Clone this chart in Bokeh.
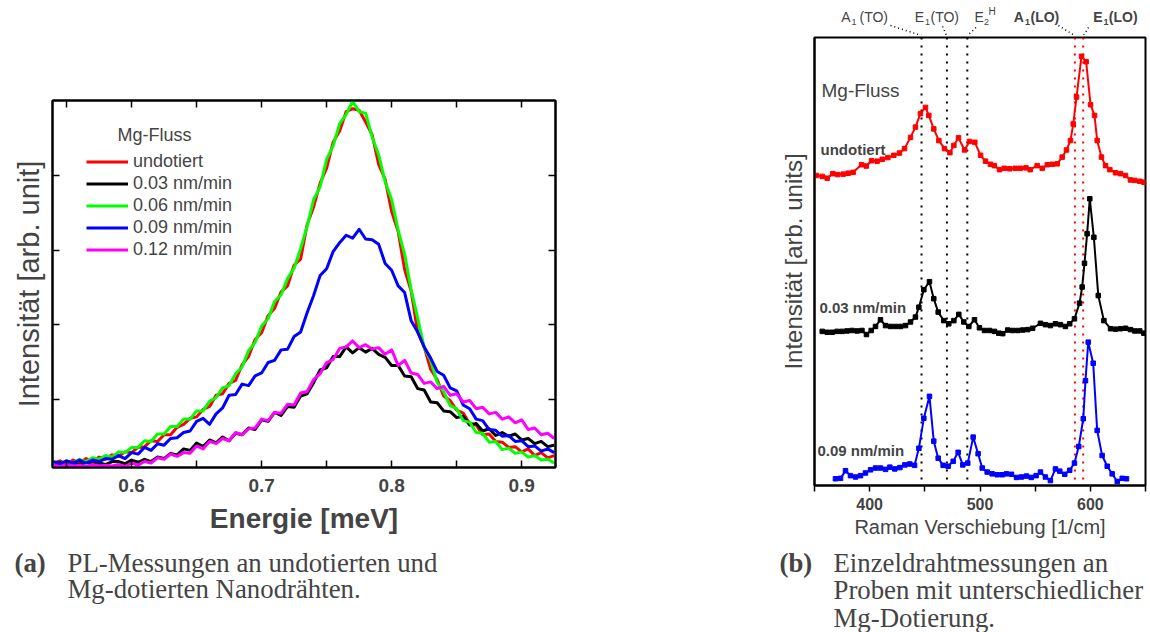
from bokeh.plotting import figure
from bokeh.models import Range1d, LinearAxis, FixedTicker, Legend, Label, Span
from bokeh.embed import file_html
from bokeh.resources import INLINE

SANS = "Liberation Sans"
SERIF = "Liberation Serif"

# ---------------- panel (a): PL spectra ----------------
energy = [0.540, 0.545, 0.550, 0.555, 0.560, 0.565, 0.570, 0.575, 0.580, 0.585,
          0.590, 0.595, 0.600, 0.605, 0.610, 0.615, 0.620, 0.625, 0.630, 0.635,
          0.640, 0.645, 0.650, 0.655, 0.660, 0.665, 0.670, 0.675, 0.680, 0.685,
          0.690, 0.695, 0.700, 0.705, 0.710, 0.715, 0.720, 0.725, 0.730, 0.735,
          0.740, 0.745, 0.750, 0.755, 0.760, 0.765, 0.770, 0.775, 0.780, 0.785,
          0.790, 0.795, 0.800, 0.805, 0.810, 0.815, 0.820, 0.825, 0.830, 0.835,
          0.840, 0.845, 0.850, 0.855, 0.860, 0.865, 0.870, 0.875, 0.880, 0.885,
          0.890, 0.895, 0.900, 0.905, 0.910, 0.915, 0.920, 0.925]

pl_undotiert = [0.14, 0.17, 0.12, 0.18, 0.14, 0.20, 0.16, 0.22, 0.19, 0.25,
                0.23, 0.29, 0.28, 0.35, 0.36, 0.44, 0.43, 0.52, 0.52, 0.62,
                0.66, 0.74, 0.76, 0.86, 0.90, 1.05, 1.07, 1.21, 1.25, 1.46,
                1.57, 1.80, 1.89, 2.12, 2.22, 2.44, 2.52, 2.80, 2.88, 3.34,
                3.58, 3.90, 4.10, 4.45, 4.60, 4.86, 4.90, 4.88, 4.72, 4.55,
                4.15, 3.95, 3.52, 3.25, 2.74, 2.45, 1.90, 1.70, 1.40, 1.26,
                1.04, 0.98, 0.85, 0.81, 0.67, 0.65, 0.52, 0.53, 0.43, 0.42,
                0.35, 0.36, 0.29, 0.33, 0.24, 0.28, 0.21, 0.24]

pl_003 = [0.12, 0.15, 0.11, 0.14, 0.12, 0.15, 0.13, 0.14, 0.12, 0.16,
          0.16, 0.13, 0.18, 0.15, 0.19, 0.16, 0.22, 0.20, 0.27, 0.25,
          0.33, 0.31, 0.41, 0.36, 0.45, 0.41, 0.49, 0.44, 0.54, 0.52,
          0.61, 0.59, 0.72, 0.70, 0.82, 0.78, 0.90, 0.89, 1.04, 1.07,
          1.22, 1.39, 1.42, 1.57, 1.57, 1.70, 1.62, 1.69, 1.63, 1.68,
          1.60, 1.56, 1.45, 1.45, 1.31, 1.30, 1.14, 1.12, 0.96, 0.95,
          0.84, 0.83, 0.75, 0.77, 0.65, 0.67, 0.57, 0.60, 0.51, 0.55,
          0.50, 0.53, 0.45, 0.47, 0.40, 0.43, 0.36, 0.38]

pl_006 = [0.15, 0.13, 0.17, 0.14, 0.19, 0.16, 0.21, 0.19, 0.24, 0.22,
          0.29, 0.28, 0.35, 0.35, 0.44, 0.43, 0.53, 0.53, 0.63, 0.63,
          0.73, 0.73, 0.84, 0.84, 0.97, 1.02, 1.15, 1.18, 1.34, 1.43,
          1.65, 1.76, 1.98, 2.08, 2.31, 2.40, 2.62, 2.76, 3.02, 3.32,
          3.68, 3.85, 4.22, 4.40, 4.70, 4.82, 5.00, 4.86, 4.84, 4.52,
          4.28, 3.92, 3.68, 3.27, 2.94, 2.47, 2.09, 1.69, 1.52, 1.22,
          1.10, 0.91, 0.87, 0.71, 0.69, 0.55, 0.54, 0.42, 0.43, 0.32,
          0.34, 0.27, 0.29, 0.22, 0.24, 0.18, 0.19, 0.14]

pl_009 = [0.16, 0.13, 0.17, 0.14, 0.18, 0.14, 0.18, 0.16, 0.20, 0.19,
          0.24, 0.20, 0.28, 0.26, 0.35, 0.31, 0.40, 0.38, 0.47, 0.48,
          0.55, 0.57, 0.70, 0.74, 0.66, 0.80, 0.88, 1.05, 1.06, 1.20,
          1.18, 1.31, 1.35, 1.49, 1.52, 1.66, 1.67, 1.84, 1.90, 2.16,
          2.39, 2.66, 2.75, 2.98, 3.10, 3.20, 3.16, 3.28, 3.15, 3.14,
          3.08, 2.82, 2.73, 2.52, 2.43, 2.05, 1.90, 1.70, 1.55, 1.37,
          1.32, 1.15, 1.11, 0.92, 0.87, 0.73, 0.71, 0.59, 0.58, 0.50,
          0.51, 0.43, 0.44, 0.36, 0.37, 0.30, 0.33, 0.28]

pl_012 = [0.11, 0.09, 0.12, 0.10, 0.11, 0.09, 0.12, 0.10, 0.11, 0.10,
          0.12, 0.09, 0.14, 0.11, 0.16, 0.14, 0.21, 0.19, 0.26, 0.23,
          0.28, 0.27, 0.37, 0.33, 0.43, 0.40, 0.47, 0.44, 0.55, 0.52,
          0.60, 0.61, 0.73, 0.71, 0.82, 0.81, 0.93, 0.92, 1.08, 1.10,
          1.26, 1.34, 1.49, 1.53, 1.68, 1.70, 1.78, 1.69, 1.73, 1.67,
          1.69, 1.60, 1.66, 1.45, 1.52, 1.35, 1.33, 1.21, 1.23, 1.14,
          1.17, 1.05, 1.07, 0.96, 0.98, 0.87, 0.89, 0.80, 0.82, 0.73,
          0.76, 0.68, 0.72, 0.59, 0.61, 0.52, 0.54, 0.47]

pl_labels = ["undotiert", "0.03 nm/min", "0.06 nm/min", "0.09 nm/min", "0.12 nm/min"]
pl_colors = ["#ff0000", "#000000", "#00ff00", "#0000ff", "#ff00ff"]
pl_series = [pl_undotiert, pl_003, pl_006, pl_009, pl_012]

energy_major = [0.6, 0.7, 0.8, 0.9]
energy_minor = [0.55, 0.65, 0.75, 0.85]
intensity_ticks = [1, 2, 3, 4]

# ---------------- panel (b): Raman spectra ----------------
raman_undotiert_x = [351.8, 357, 361.5, 366.6, 371, 376, 380.5, 385, 392.6, 396.9, 401.7, 406.8,
                     411.4, 416.5, 421.9, 427, 431.6, 437, 441.5, 446, 450.6, 453.6, 458.1, 462.7,
                     467.8, 472.7, 476.3, 480.5, 486, 490.5, 495.3, 500.5, 505, 509.5, 513, 517.7,
                     522, 527, 532, 536.5, 541.6, 545.5, 551.8, 556.4, 561, 565.5, 570, 574.5,
                     578.4, 582, 584.5, 587.5, 592, 596.2, 600.2, 603.8, 606.2, 610.1, 613.8,
                     617.7, 622.8, 627.3, 631.9, 636.4, 640.3, 644.8, 648.5]
raman_undotiert_y = [69.2, 69.0, 68.6, 69.6, 69.4, 69.5, 69.7, 69.9, 71.6, 71.3, 72.5, 72.4,
                     72.8, 73.2, 73.7, 74.2, 75.2, 77.7, 80.0, 83.0, 84.4, 82.6, 79.6, 77.0,
                     75.2, 74.3, 75.9, 77.6, 74.9, 76.8, 76.6, 73.7, 72.4, 71.7, 71.4, 70.5,
                     70.8, 70.7, 70.8, 70.8, 70.9, 70.5, 71.4, 70.8, 71.6, 71.7, 71.8, 73.3,
                     74.9, 77.0, 80.7, 86.7, 95.8, 94.6, 85.0, 82.6, 77.0, 73.3, 71.4,
                     70.5, 69.8, 69.6, 69.2, 68.2, 68.1, 67.9, 67.7]

raman_003_x = [357, 361.5, 366, 370.5, 375, 379.5, 384, 388.6, 393, 397.1, 401.4, 405.3,
               409.8, 414.4, 418.9, 423.5, 428, 432.5, 437, 441.5, 444.6, 449.1, 454.2, 458.1,
               462.1, 467.2, 471.7, 476.3, 480.8, 485.3, 489.9, 495, 499.5, 504.1, 508.6, 513.1,
               517, 520.6, 525.1, 529.6, 534.2, 538.7, 543.2, 547.7, 554.8, 559.3, 563.8, 568.4,
               572.9, 577.4, 581.3, 585.6, 590.2, 592.6, 594.7, 597.1, 599.5, 603.2, 607.2, 612.3,
               618.3, 622.8, 627.3, 631.9, 636.4, 640.3, 644.8, 648.5]
raman_003_y = [34.4, 34.2, 34.2, 34.4, 34.4, 34.5, 34.6, 34.5, 34.6, 33.7, 34.6, 35.5,
               37.0, 35.7, 35.5, 35.5, 35.5, 35.7, 36.5, 37.6, 39.8, 43.7, 45.5, 41.7,
               38.7, 36.8, 36.1, 36.8, 38.2, 36.5, 35.5, 37.0, 35.2, 34.6, 34.6, 34.4,
               34.0, 33.9, 34.7, 34.6, 34.6, 34.7, 34.8, 35.1, 36.2, 35.9, 35.7, 36.1,
               35.9, 35.5, 36.1, 37.2, 40.7, 44.3, 49.6, 56.2, 64.0, 55.4, 42.4, 36.8,
               35.0, 34.9, 35.0, 35.1, 34.8, 34.5, 34.5, 34.0]

raman_009_x = [369, 373.6, 378.1, 382.6, 387.2, 391.7, 396.2, 400.8, 405.3, 409.8, 414.4, 418.3,
               422.8, 427.4, 431.9, 436.4, 440.7, 444.6, 449.1, 454.2, 458.1, 462.1, 466.6, 471.1,
               475.7, 480.2, 484.4, 488.9, 493.8, 498.3, 502, 506.5, 511, 515.6, 520.1, 524,
               528.5, 533.1, 537.6, 542.1, 546.4, 550.9, 554.8, 559.3, 563.8, 568.4, 572.3, 576.8,
               581.3, 585.6, 589.5, 593.6, 595.6, 598.1, 602.6, 606.2, 610.7, 615.3, 619.8, 624.4,
               628.9, 632.8]
raman_009_y = [1.5, 1.6, 3.3, 2.2, 1.9, 2.2, 2.8, 3.5, 3.9, 3.9, 3.6, 4.1,
               3.7, 4.0, 4.6, 4.8, 4.5, 8.3, 15.0, 19.9, 9.9, 6.1, 4.5, 4.3,
               5.4, 7.4, 4.6, 5.0, 10.8, 7.1, 3.9, 3.0, 2.6, 2.4, 2.4, 2.6,
               2.5, 1.8, 1.9, 2.1, 1.8, 2.2, 3.0, 1.9, 1.1, 3.7, 3.2, 2.5,
               3.4, 5.0, 8.7, 14.9, 23.4, 32.0, 27.3, 12.3, 6.7, 4.3, 2.6, 0.9,
               1.6, 1.5]

raman_labels = ["undotiert", "0.03 nm/min", "0.09 nm/min"]
raman_colors = ["#ff0000", "#000000", "#0000ff"]

mode_lines_black = [447, 470, 488.5]
mode_lines_red = [586, 593.5]
raman_major = [400, 500, 600]
raman_minor = [350, 450, 550, 650]

caption_a = ["PL-Messungen an undotierten und", "Mg-dotierten Nanodrähten."]
caption_b = ["Einzeldrahtmessungen an", "Proben mit unterschiedlicher", "Mg-Dotierung."]


def blank_labels(ax, ticks):
    ax.major_label_overrides = {t: "" for t in ticks}


def inner_axis(ax, ticks, minor, labels=False):
    ax.ticker = FixedTicker(ticks=ticks, minor_ticks=minor)
    ax.major_tick_in = 7
    ax.major_tick_out = 0
    ax.minor_tick_in = 7
    ax.minor_tick_out = 0
    ax.major_tick_line_width = 1.5
    ax.minor_tick_line_width = 1.5
    ax.axis_line_width = 2
    if not labels:
        blank_labels(ax, ticks)


def text_canvas(w, h):
    c = figure(width=w, height=h, x_range=Range1d(0, w), y_range=Range1d(h, 0),
               output_backend="svg", toolbar_location=None,
               x_axis_type=None, y_axis_type=None, min_border=0)
    c.outline_line_color = None
    return c


# ================= figure (a) =================
p1 = figure(width=575, height=542, output_backend="svg", toolbar_location=None,
            x_range=Range1d(0.5392, 0.926), y_range=Range1d(0.08, 5.01),
            min_border_left=52, min_border_right=20, min_border_top=100, min_border_bottom=75)
p1.grid.visible = False
p1.outline_line_color = "black"
p1.outline_line_width = 2

xa = p1.xaxis[0]
inner_axis(xa, energy_major, energy_minor, labels=True)
xa.major_label_text_font = SANS
xa.major_label_text_font_style = "bold"
xa.major_label_text_font_size = "19px"
xa.major_label_standoff = 11
xa.axis_label = "Energie [meV]"
xa.axis_label_text_font = SANS
xa.axis_label_text_font_style = "bold"
xa.axis_label_text_font_size = "28px"
xa.axis_label_standoff = 8

ya = p1.yaxis[0]
inner_axis(ya, intensity_ticks, [])
ya.axis_label = "Intensität [arb. unit]"
ya.axis_label_text_font = SANS
ya.axis_label_text_font_style = "normal"
ya.axis_label_text_font_size = "29px"
ya.axis_label_standoff = 8

top_ax = LinearAxis()
inner_axis(top_ax, energy_major, energy_minor)
p1.add_layout(top_ax, "above")
right_ax = LinearAxis()
inner_axis(right_ax, intensity_ticks, [])
p1.add_layout(right_ax, "right")

renderers = []
for ys, col in zip(pl_series, pl_colors):
    renderers.append(p1.line(energy, ys, line_color=col, line_width=3, line_join="round"))

legend = Legend(items=[(lab, [r]) for lab, r in zip(pl_labels, renderers)],
                location=(34, 207), label_text_font=SANS, label_text_font_size="18px",
                glyph_width=42, glyph_height=21, label_height=21, spacing=1, padding=0,
                margin=0, label_standoff=5, border_line_alpha=0, background_fill_alpha=0)
p1.add_layout(legend)
p1.add_layout(Label(x=65, y=333, x_units="screen", y_units="screen", text="Mg-Fluss",
                    text_font=SANS, text_font_size="18px", text_baseline="middle"))

# caption (a)
ca = text_canvas(575, 90)
ca.add_layout(Label(x=14, y=20, text="(a)", text_font=SERIF, text_font_style="bold",
                    text_font_size="26.8px", text_baseline="middle"))
for i, line in enumerate(caption_a):
    ca.add_layout(Label(x=67, y=20 + 26.5 * i, text=line, text_font=SERIF,
                        text_font_size="26.8px", text_baseline="middle"))

# ================= figure (b) =================
# strip above panel (b) with the phonon mode names
tb = text_canvas(575, 35)
mode_pieces = [("A", 265.7, 16.7, "14px", "normal"), ("1", 276, 21.8, "9px", "normal"),
               ("(TO)", 284, 16.7, "14px", "normal"),
               ("E", 339.3, 16.7, "14px", "normal"), ("1", 349.5, 21.8, "9px", "normal"),
               ("(TO)", 355, 16.7, "14px", "normal"),
               ("E", 399, 16.7, "14px", "normal"), ("2", 408.5, 21.8, "9px", "normal"),
               ("H", 413, 11.4, "10px", "normal"),
               ("A", 438.3, 16.7, "14px", "bold"), ("1", 449.5, 21.8, "9px", "bold"),
               ("(LO)", 455, 16.7, "14px", "bold"),
               ("E", 517.7, 16.7, "14px", "bold"), ("1", 528, 21.8, "9px", "bold"),
               ("(LO)", 533.3, 16.7, "14px", "bold")]
for t, lx, ly, fs, st in mode_pieces:
    tb.add_layout(Label(x=lx, y=ly, text=t, text_font=SANS, text_font_size=fs,
                        text_font_style=st, text_baseline="middle"))
tb.segment(x0=[315, 367, 400.5, 483, 513], y0=[25, 26, 27, 25, 27],
           x1=[346, 371, 392, 499, 508], y1=[35, 35, 35, 35, 35],
           line_color="black", line_width=1.5, line_dash="1 3")

p2 = figure(width=575, height=507, output_backend="svg", toolbar_location=None,
            x_range=Range1d(350, 650), y_range=Range1d(0, 100),
            min_border_left=239, min_border_right=5, min_border_top=2, min_border_bottom=57)
p2.grid.visible = False
p2.outline_line_color = "black"
p2.outline_line_width = 2

xb = p2.xaxis[0]
xb.ticker = FixedTicker(ticks=raman_major, minor_ticks=raman_minor)
xb.major_tick_in = 0
xb.major_tick_out = 6
xb.minor_tick_in = 0
xb.minor_tick_out = 6
xb.major_tick_line_width = 1.5
xb.minor_tick_line_width = 1.5
xb.axis_line_width = 2
xb.major_label_text_font = SANS
xb.major_label_text_font_style = "bold"
xb.major_label_text_font_size = "16px"
xb.major_label_standoff = 6
xb.axis_label = "Raman Verschiebung [1/cm]"
xb.axis_label_text_font = SANS
xb.axis_label_text_font_style = "normal"
xb.axis_label_text_font_size = "20px"
xb.axis_label_standoff = 3

yb = p2.yaxis[0]
yb.ticker = FixedTicker(ticks=[])
yb.major_tick_out = 0
yb.minor_tick_out = 0
yb.axis_line_width = 2
yb.axis_label = "Intensität [arb. units]"
yb.axis_label_text_font = SANS
yb.axis_label_text_font_style = "normal"
yb.axis_label_text_font_size = "24px"
yb.axis_label_standoff = 8

for v in mode_lines_black:
    p2.add_layout(Span(location=v, dimension="height", line_color="black",
                       line_width=2, line_dash="2 6", level="underlay"))
for v in mode_lines_red:
    p2.add_layout(Span(location=v, dimension="height", line_color="#ff0000",
                       line_width=2, line_dash="2 6", level="underlay"))

for xs, ys, col in [(raman_undotiert_x, raman_undotiert_y, raman_colors[0]),
                    (raman_003_x, raman_003_y, raman_colors[1]),
                    (raman_009_x, raman_009_y, raman_colors[2])]:
    p2.line(xs, ys, line_color=col, line_width=2, line_join="round")
    p2.scatter(xs, ys, marker="square", size=4.5, fill_color=col, line_color=col)

p2.add_layout(Label(x=7, y=395, x_units="screen", y_units="screen", text="Mg-Fluss",
                    text_font=SANS, text_font_size="19px", text_baseline="middle"))
for lab, (lx, ly) in zip(raman_labels, [(6, 336), (5, 177.7), (3, 35.4)]):
    p2.add_layout(Label(x=lx, y=ly, x_units="screen", y_units="screen", text=lab,
                        text_font=SANS, text_font_style="bold", text_font_size="15px",
                        text_baseline="middle"))

# caption (b)
cb = text_canvas(575, 90)
cb.add_layout(Label(x=204, y=20, text="(b)", text_font=SERIF, text_font_style="bold",
                    text_font_size="26.8px", text_baseline="middle"))
for i, line in enumerate(caption_b):
    cb.add_layout(Label(x=258, y=20 + 27.5 * i, text=line, text_font=SERIF,
                        text_font_size="26.8px", text_baseline="middle"))

PAGE_CSS = """{% block postamble %}<style>
html, body { margin: 0 !important; padding: 0 !important; height: 632px !important; }
body { display: flex !important; flex-direction: column; flex-wrap: wrap;
       align-content: flex-start; width: 1150px; }
body > div > * { flex: none; }
</style>{% endblock %}"""

open("out.html", "w").write(file_html([p1, ca, tb, p2, cb], INLINE, template=PAGE_CSS))
